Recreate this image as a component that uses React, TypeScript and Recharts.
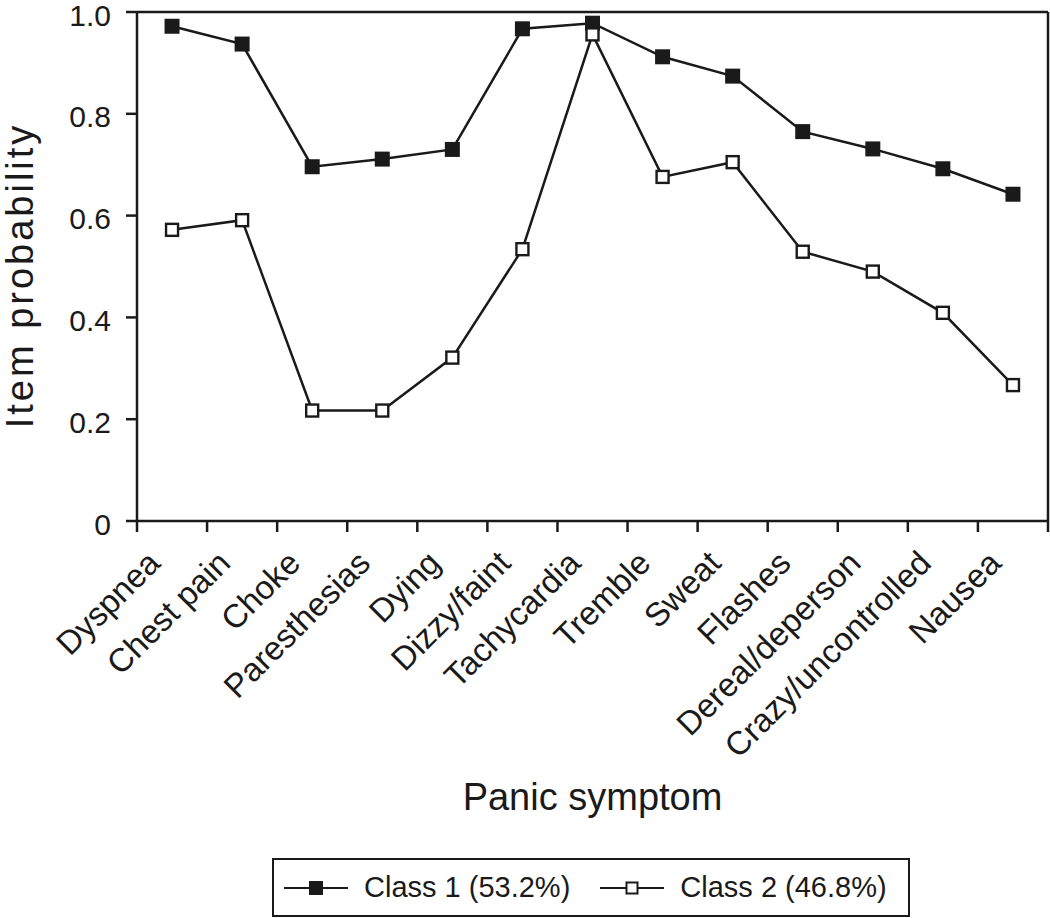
import { LineChart, Line, XAxis, YAxis, Legend, CartesianGrid } from 'recharts'

const symptoms = [
  'Dyspnea',
  'Chest pain',
  'Choke',
  'Paresthesias',
  'Dying',
  'Dizzy/faint',
  'Tachycardia',
  'Tremble',
  'Sweat',
  'Flashes',
  'Dereal/deperson',
  'Crazy/uncontrolled',
  'Nausea',
]
const class1 = [0.972, 0.937, 0.696, 0.711, 0.73, 0.967, 0.978, 0.912, 0.874, 0.765, 0.731, 0.692, 0.642]
const class2 = [0.572, 0.591, 0.217, 0.217, 0.321, 0.534, 0.956, 0.676, 0.705, 0.529, 0.49, 0.409, 0.267]
const yTicks = [0, 0.2, 0.4, 0.6, 0.8, 1.0]
const seriesNames = ['Class 1 (53.2%)', 'Class 2 (46.8%)']

const data = symptoms.map((symptom, i) => ({ symptom, c1: class1[i], c2: class2[i] }))

const INK = '#1a1a1a'
const FONT = '"Liberation Sans", Arial, Helvetica, sans-serif'
const AXIS = { stroke: INK, strokeWidth: 2.5 }

const FilledSquare = (props: any) => {
  const { cx, cy, index } = props
  if (cx == null || cy == null) return <g key={index} />
  return <rect key={index} x={cx - 7.5} y={cy - 7.5} width={15} height={15} fill={INK} />
}

const OpenSquare = (props: any) => {
  const { cx, cy, index } = props
  if (cx == null || cy == null) return <g key={index} />
  return (
    <rect key={index} x={cx - 6} y={cy - 6} width={12} height={12} fill="#fff" stroke={INK} strokeWidth={2.4} />
  )
}

// category labels sit at band centres, but the tick marks go on the band edges
const SymptomTick = ({ x, y, payload, index, visibleTicksCount }: any) => {
  const half = payload?.offset ?? 0
  const px = x - 10
  const py = y + 44
  const isLast = index === visibleTicksCount - 1
  return (
    <g>
      <line x1={x - half} y1={y} x2={x - half} y2={y + 11} {...AXIS} />
      {isLast && <line x1={x + half} y1={y} x2={x + half} y2={y + 11} {...AXIS} />}
      <text
        x={px}
        y={py}
        textAnchor="end"
        transform={`rotate(-45, ${px}, ${py})`}
        fill={INK}
        fontSize={33}
        fontFamily={FONT}
      >
        {payload.value}
      </text>
    </g>
  )
}

const LegendIcon = ({ filled }: { filled: boolean }) => (
  <svg width={64} height={20} style={{ display: 'block' }}>
    <line x1={0} y1={10} x2={64} y2={10} stroke={INK} strokeWidth={2.2} />
    {filled ? (
      <rect x={25} y={3} width={14} height={14} fill={INK} />
    ) : (
      <rect x={26.5} y={4.5} width={11} height={11} fill="#fff" stroke={INK} strokeWidth={2} />
    )}
  </svg>
)

const BoxLegend = () => (
  <div
    style={{
      boxSizing: 'border-box',
      width: '100%',
      height: '100%',
      border: `2.5px solid ${INK}`,
      display: 'flex',
      alignItems: 'center',
      paddingLeft: 10,
      fontFamily: FONT,
      fontSize: 29,
      color: INK,
    }}
  >
    {seriesNames.map((name, i) => (
      <div key={name} style={{ display: 'flex', alignItems: 'center', marginRight: i === 0 ? 30 : 0 }}>
        <LegendIcon filled={i === 0} />
        <span style={{ marginLeft: 16 }}>{name}</span>
      </div>
    ))}
  </div>
)

export default function App() {
  return (
    <div style={{ position: 'absolute', left: 0, top: 0, background: '#fff' }}>
      <LineChart width={1050} height={918} data={data} margin={{ top: 12, right: 2, bottom: 0, left: 0 }}>
        {/* top and right frame lines of the plot box */}
        <CartesianGrid
          stroke={INK}
          strokeWidth={2.5}
          horizontalCoordinatesGenerator={({ offset }: any) => [offset.top]}
          verticalCoordinatesGenerator={({ offset }: any) => [offset.left + offset.width]}
        />
        <XAxis
          dataKey="symptom"
          type="category"
          scale="band"
          interval={0}
          height={397}
          axisLine={AXIS}
          tickLine={false}
          tickSize={0}
          tickMargin={0}
          tick={<SymptomTick />}
          label={{
            value: 'Panic symptom',
            position: 'insideBottom',
            offset: 108,
            fill: INK,
            fontSize: 38,
            fontFamily: FONT,
          }}
        />
        <YAxis
          domain={[0, 1]}
          ticks={yTicks}
          interval={0}
          width={137}
          tickSize={11}
          tickMargin={15}
          tickFormatter={(v: number) => (v === 0 ? '0' : v.toFixed(1))}
          tick={{ fill: INK, fontSize: 30, fontFamily: FONT, dy: 3 }}
          tickLine={AXIS}
          axisLine={AXIS}
          label={{
            value: 'Item probability',
            angle: -90,
            position: 'insideLeft',
            offset: 20,
            dy: 9,
            fill: INK,
            fontSize: 38,
            fontFamily: FONT,
            letterSpacing: 3,
            style: { textAnchor: 'middle' },
          }}
        />
        <Legend
          layout="horizontal"
          verticalAlign="middle"
          align="center"
          content={<BoxLegend />}
          wrapperStyle={{ left: 272, top: 858, width: 638, height: 59 }}
        />
        <Line
          dataKey="c1"
          name={seriesNames[0]}
          stroke={INK}
          strokeWidth={2.5}
          dot={<FilledSquare />}
          activeDot={false}
          isAnimationActive={false}
        />
        <Line
          dataKey="c2"
          name={seriesNames[1]}
          stroke={INK}
          strokeWidth={2.5}
          dot={<OpenSquare />}
          activeDot={false}
          isAnimationActive={false}
        />
      </LineChart>
    </div>
  )
}
